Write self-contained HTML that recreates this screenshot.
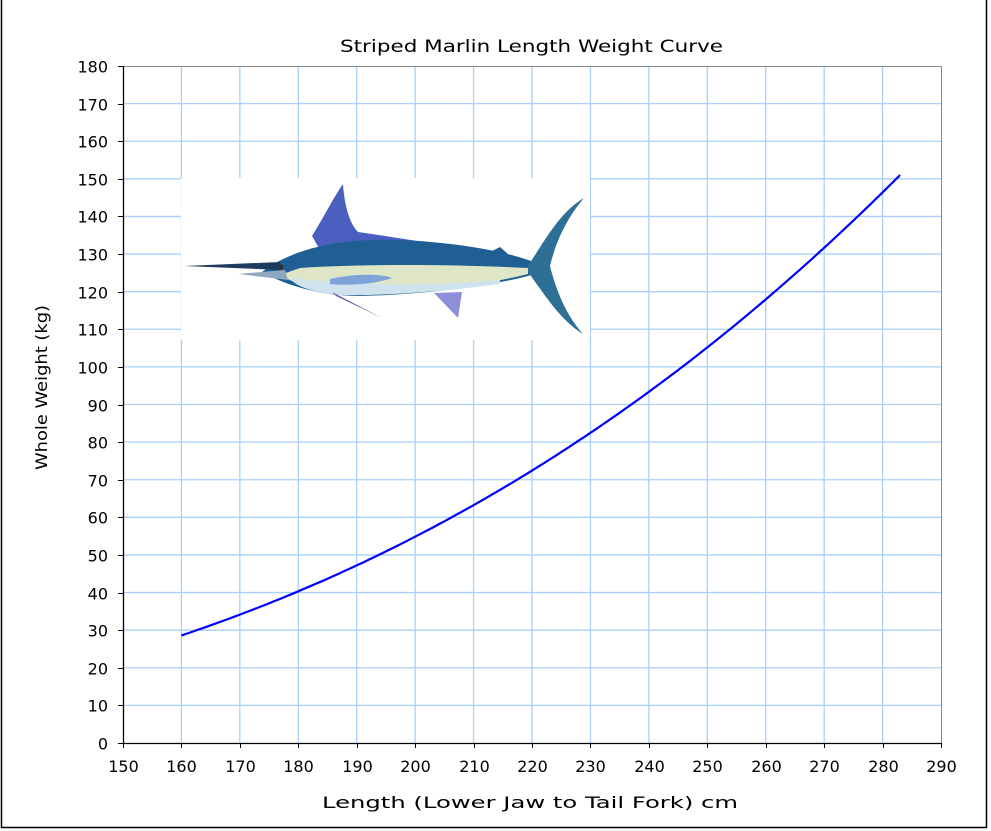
<!DOCTYPE html>
<html><head><meta charset="utf-8"><style>
html,body{margin:0;padding:0;background:#fff;width:991px;height:831px;overflow:hidden}
svg{display:block;font-family:"DejaVu Sans","Liberation Sans",sans-serif}
</style></head><body>
<svg id="s" width="991" height="831" viewBox="0 0 991 831" xmlns="http://www.w3.org/2000/svg">
<rect x="0" y="0" width="991" height="831" fill="#fff"/>
<line x1="1.5" y1="0" x2="1.5" y2="828" stroke="#000" stroke-width="1.5"/>
<line x1="1" y1="827.5" x2="987" y2="827.5" stroke="#000" stroke-width="1.5"/>
<line x1="986.5" y1="0" x2="986.5" y2="828" stroke="#000" stroke-width="1.5"/>
<g id="grid"></g>
<rect x="181" y="178" width="409" height="162" fill="#fff"/>
<g id="fish">
  <path d="M312,236 C325,215 335,195 343,184 C344,200 348,222 358,232 C400,238 450,246 480,252 L320,250 Z" fill="#4a5fc0"/>
  <path d="M270,266 C300,248 340,238 400,240 C450,242 500,250 528,260 L540,264 C540,270 540,272 528,276 C490,286 420,295 360,296 C320,296 285,285 262,272 Z" fill="#1f5f93"/>
  <path d="M300,268 C360,264 450,264 528,268 L528,274 C480,286 420,293 360,294 C320,293 295,284 280,275 Z" fill="#dfe6c8"/>
  <path d="M290,278 C340,284 420,288 500,280 L500,284 C440,292 380,296 340,295 C310,292 295,286 290,278 Z" fill="#cfe3ee"/>
  <path d="M184,266 L280,262 L282,270 Z" fill="#1d3c5e"/>
  <path d="M238,274 L285,270 L288,280 Z" fill="#8fa7bf"/>
  <circle cx="281" cy="267" r="2.5" fill="#333"/>
  <path d="M528,266 C545,240 560,212 584,198 C565,220 555,245 550,266 C556,290 566,315 583,334 C560,320 545,295 528,272 Z" fill="#2e6f96"/>
  <path d="M332,292 L382,318 L336,296 Z" fill="#6a5fb0"/>
  <path d="M434,293 L458,318 L462,292 Z" fill="#8d8fd8"/>
  <path d="M330,279 C350,274 380,273 392,278 C375,284 350,286 330,284 Z" fill="#7fa2d8"/>
  <path d="M490,252 L500,247 L508,254 Z" fill="#1f5f93"/>
</g>
<g id="axes"></g>
<path id="curve" fill="none" stroke="#0000ff" stroke-width="2.2"/>
<text x="340" y="52" font-size="17" textLength="383" lengthAdjust="spacingAndGlyphs" fill="#000">Striped Marlin Length Weight Curve</text>
<text x="322" y="808" font-size="16" textLength="416" lengthAdjust="spacingAndGlyphs" fill="#000">Length (Lower Jaw to Tail Fork) cm</text>
<text transform="translate(47,470) rotate(-90)" font-size="16" textLength="165" lengthAdjust="spacingAndGlyphs" fill="#000">Whole Weight (kg)</text>
</svg>
<script>
var NS="http://www.w3.org/2000/svg";
function X(L){return 123+(L-150)*(818/140);}
function Y(W){return 743-W*(677/180);}
function el(p,t,a,txt){var e=document.createElementNS(NS,t);for(var k in a)e.setAttribute(k,a[k]);if(txt!=null)e.textContent=txt;p.appendChild(e);return e;}
var g=document.getElementById("grid"),ax=document.getElementById("axes");
for(var L=160;L<=280;L+=10){el(g,"line",{x1:X(L),x2:X(L),y1:66,y2:743,stroke:"#a8d0fa","stroke-width":1.3});}
for(var W=10;W<=170;W+=10){el(g,"line",{x1:123,x2:941,y1:Y(W),y2:Y(W),stroke:"#a8d0fa","stroke-width":1.3});}
el(ax,"line",{x1:123,x2:941,y1:66.5,y2:66.5,stroke:"#8a8a8a","stroke-width":1});
el(ax,"line",{x1:941.5,x2:941.5,y1:66,y2:743,stroke:"#8a8a8a","stroke-width":1});
el(ax,"line",{x1:123.5,x2:123.5,y1:66,y2:743,stroke:"#000","stroke-width":1.3});
el(ax,"line",{x1:123,x2:941,y1:743.5,y2:743.5,stroke:"#000","stroke-width":1.3});
for(var W=0;W<=180;W+=10){var y=Math.round(Y(W))+0.5;el(ax,"line",{x1:118,x2:123,y1:y,y2:y,stroke:"#000"});el(ax,"text",{x:108,y:y+6,"font-size":16,"text-anchor":"end"},W);}
for(var L=150;L<=290;L+=10){var x=Math.round(X(L))+0.5;el(ax,"line",{x1:x,x2:x,y1:743,y2:748,stroke:"#000"});el(ax,"text",{x:x,y:772,"font-size":16,"text-anchor":"middle"},L);}
var d="";for(var L=160;L<=283;L+=1){var W=28.6*Math.pow(L/160,2.918);d+=(L==160?"M":"L")+X(L).toFixed(1)+","+Y(W).toFixed(1);}
document.getElementById("curve").setAttribute("d",d);
</script>
</body></html>
